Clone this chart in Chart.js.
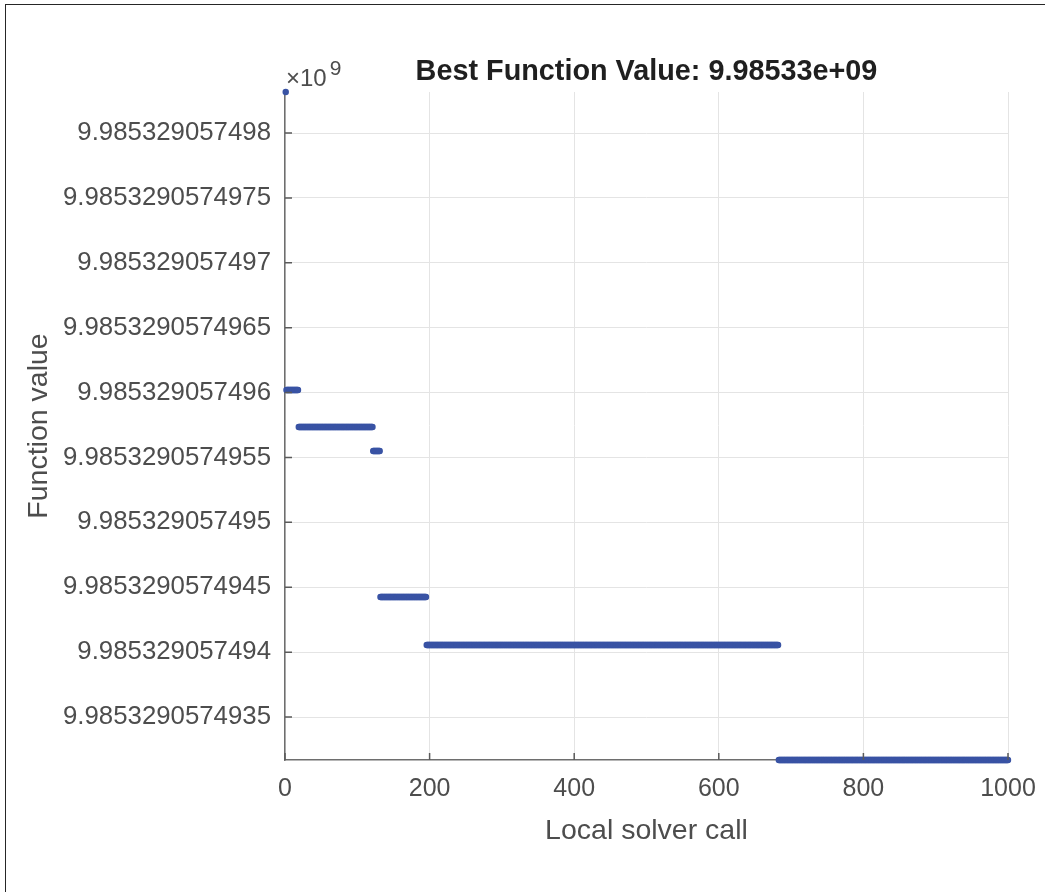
<!DOCTYPE html>
<html>
<head>
<meta charset="utf-8">
<title>Best Function Value</title>
<script src="https://cdn.jsdelivr.net/npm/chart.js@4.4.1/dist/chart.umd.min.js"></script>
<style>
  html, body { margin: 0; padding: 0; background: #ffffff; }
  #wrap { position: relative; width: 1045px; height: 892px; }
  #frame {
    position: absolute; left: 5px; top: 4px; right: 0; bottom: 0;
    border-left: 1.5px solid #262626; border-top: 1.5px solid #262626;
    pointer-events: none;
  }
  #bestChart { position: absolute; left: 0; top: 0; }
</style>
</head>
<body>
<div id="wrap">
  <canvas id="bestChart" width="1045" height="892"></canvas>
  <div id="frame"></div>
</div>
<script>
// best value found so far, held constant over runs of local solver calls
const segStart = [1, 2, 19, 122, 132, 196, 683];
const segEnd   = [1, 18, 121, 131, 195, 682, 1000];
// value in units of 1e-13 above 9.98532905749 (axis is scaled x10^9)
const segValue = [83.16, 60.2, 57.35, 55.5, 44.25, 40.55, 31.69];

const xTicks = [0, 200, 400, 600, 800, 1000];
const yTicks = [35, 40, 45, 50, 55, 60, 65, 70, 75, 80];
const yBase = '9.98532905749';
const chartTitle = 'Best Function Value: 9.98533e+09';

const FONT = '"Liberation Sans", Arial, Helvetica, sans-serif';
const TEXT = '#4d4d4d';
const MARKER = '#3953a4';

function buildPoints() {
    const points = [];
    segStart.forEach((start, i) => {
        for (let call = start; call <= segEnd[i]; call++) {
            points.push({ x: call, y: segValue[i] });
        }
    });
    return points;
}

function yLabel(value) {
    return yBase + String(value).replace(/0+$/, '');
}

const axisExtras = {
    id: 'axisExtras',
    afterDraw(chart) {
        const { ctx, chartArea, scales } = chart;
        ctx.save();
        ctx.strokeStyle = '#5a5a5a';
        ctx.lineWidth = 1.5;
        ctx.beginPath();
        xTicks.forEach(v => {
            const px = scales.x.getPixelForValue(v);
            ctx.moveTo(px, chartArea.bottom);
            ctx.lineTo(px, chartArea.bottom - 7);
        });
        yTicks.forEach(v => {
            const py = scales.y.getPixelForValue(v);
            ctx.moveTo(chartArea.left, py);
            ctx.lineTo(chartArea.left + 7, py);
        });
        ctx.stroke();

        // title centred over the plot area
        ctx.fillStyle = '#1f1f1f';
        ctx.textAlign = 'center';
        ctx.textBaseline = 'middle';
        ctx.font = 'bold 28.8px ' + FONT;
        ctx.fillText(chartTitle, (chartArea.left + chartArea.right) / 2, 72);

        // exponent label above the y axis
        ctx.fillStyle = TEXT;
        ctx.textBaseline = 'alphabetic';
        ctx.textAlign = 'left';
        ctx.font = '24px ' + FONT;
        ctx.fillText('\u00d710', chartArea.left + 1, chartArea.top - 6);
        const w = ctx.measureText('\u00d710').width;
        ctx.font = '21px ' + FONT;
        ctx.fillText('9', chartArea.left + 4 + w, chartArea.top - 17);
        ctx.restore();
    }
};

function initializeBestChart() {
    const canvas = document.getElementById('bestChart');
    if (!canvas) {
        return;
    }

    new Chart(canvas, {
        type: 'scatter',
        data: {
            datasets: [{
                data: buildPoints(),
                backgroundColor: MARKER,
                borderWidth: 0,
                pointRadius: 3.2,
                pointHoverRadius: 3.2,
                clip: false
            }]
        },
        plugins: [axisExtras],
        options: {
            responsive: false,
            animation: false,
            layout: {
                padding: { left: 0, right: 37, top: 92, bottom: 0 }
            },
            plugins: {
                legend: { display: false },
                tooltip: { enabled: false },
                title: { display: false }
            },
            scales: {
                x: {
                    type: 'linear',
                    min: 0,
                    max: 1000,
                    afterBuildTicks: scale => {
                        scale.ticks = xTicks.map(v => ({ value: v }));
                    },
                    afterFit: scale => {
                        scale.height = 132;
                        scale.paddingLeft = 0;
                        scale.paddingRight = 0;
                    },
                    ticks: {
                        color: TEXT,
                        font: { family: FONT, size: 25 },
                        padding: 14,
                        maxRotation: 0,
                        callback: value => String(value)
                    },
                    grid: {
                        color: '#e4e4e4',
                        lineWidth: 1,
                        drawTicks: false
                    },
                    border: { display: true, color: '#6e6e6e', width: 1.5 },
                    title: {
                        display: true,
                        text: 'Local solver call',
                        color: TEXT,
                        font: { family: FONT, size: 28.5 },
                        padding: { top: 44, bottom: 44 }
                    }
                },
                y: {
                    type: 'linear',
                    min: 31.69,
                    max: 83.16,
                    afterBuildTicks: scale => {
                        scale.ticks = yTicks.map(v => ({ value: v }));
                    },
                    afterFit: scale => {
                        scale.width = 285;
                    },
                    ticks: {
                        color: TEXT,
                        font: { family: FONT, size: 25.8 },
                        padding: 14,
                        callback: value => yLabel(value)
                    },
                    grid: {
                        color: '#e4e4e4',
                        lineWidth: 1,
                        drawTicks: false
                    },
                    border: { display: true, color: '#6e6e6e', width: 1.5 },
                    title: {
                        display: true,
                        text: 'Function value',
                        color: TEXT,
                        font: { family: FONT, size: 28.5 },
                        padding: { top: 22, bottom: 22 }
                    }
                }
            }
        }
    });
}

document.addEventListener('DOMContentLoaded', function() {
    initializeBestChart();
});
</script>
</body>
</html>
